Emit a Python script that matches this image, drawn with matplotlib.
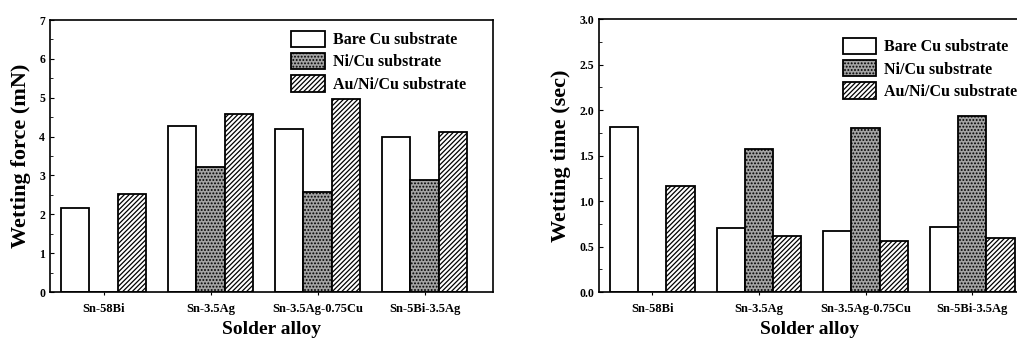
import matplotlib
matplotlib.use("Agg")
import matplotlib.pyplot as plt
import numpy as np
from matplotlib.ticker import MultipleLocator

plt.rcParams['font.family'] = ['Liberation Serif', 'DejaVu Serif']
plt.rcParams['font.weight'] = 'bold'
plt.rcParams['axes.labelweight'] = 'bold'
plt.rcParams['hatch.linewidth'] = 0.9

alloys = ["Sn-58Bi", "Sn-3.5Ag", "Sn-3.5Ag-0.75Cu", "Sn-5Bi-3.5Ag"]
series = ["Bare Cu substrate", "Ni/Cu substrate", "Au/Ni/Cu substrate"]

# wetting force (mN)
force_bare = [2.17, 4.27, 4.20, 3.98]
force_ni = [0.0, 3.22, 2.58, 2.88]
force_au = [2.53, 4.57, 4.97, 4.12]

# wetting time (sec)
time_bare = [1.81, 0.70, 0.67, 0.71]
time_ni = [0.0, 1.57, 1.80, 1.93]
time_au = [1.16, 0.62, 0.56, 0.59]

styles = [
    dict(facecolor='white', edgecolor='black', hatch=None),
    dict(facecolor='#a3a3a3', edgecolor='black', hatch='.....'),
    dict(facecolor='white', edgecolor='black', hatch='///////'),
]

fig = plt.figure(figsize=(10.17, 3.4), dpi=100)
ax1 = fig.add_axes([0.0492, 0.141, 0.4356, 0.800])
ax2 = fig.add_axes([0.589, 0.141, 0.413, 0.803])

x = np.arange(len(alloys))
w = 0.265


def draw(ax, data, ylabel, ymax, major, minor, fmt, xr, leg_anchor):
    for i, (vals, st) in enumerate(zip(data, styles)):
        ax.bar(x + (i - 1) * w, vals, w, linewidth=1.3, label=series[i], **st)
    ax.set_xlim(-0.5, xr)
    ax.set_ylim(0, ymax)
    ax.yaxis.set_major_locator(MultipleLocator(major))
    ax.yaxis.set_minor_locator(MultipleLocator(minor))
    ax.yaxis.set_major_formatter(fmt)
    ax.set_xticks(x)
    ax.set_xticklabels(alloys, fontsize=9)
    ax.tick_params(axis='y', which='major', direction='in', length=3, labelsize=8.5)
    ax.tick_params(axis='y', which='minor', direction='in', length=2)
    ax.tick_params(axis='x', direction='out', length=2, pad=6)
    for s in ax.spines.values():
        s.set_linewidth(1.2)
    ax.set_ylabel(ylabel, fontsize=16, labelpad=6)
    ax.set_xlabel("Solder alloy", fontsize=14, labelpad=4)
    ax.legend(loc='upper left', bbox_to_anchor=leg_anchor, frameon=False,
              fontsize=11.5, handlelength=2.1, handleheight=1.2,
              labelspacing=0.3, handletextpad=0.5, borderaxespad=0)


draw(ax1, [force_bare, force_ni, force_au], "Wetting force (mN)", 7, 1, 0.5,
     '{x:.0f}', 3.64, (0.53, 0.985))
draw(ax2, [time_bare, time_ni, time_au], "Wetting time (sec)", 3.0, 0.5, 0.25,
     '{x:.1f}', 3.44, (0.565, 0.955))

fig.savefig("out.png", dpi=100)
